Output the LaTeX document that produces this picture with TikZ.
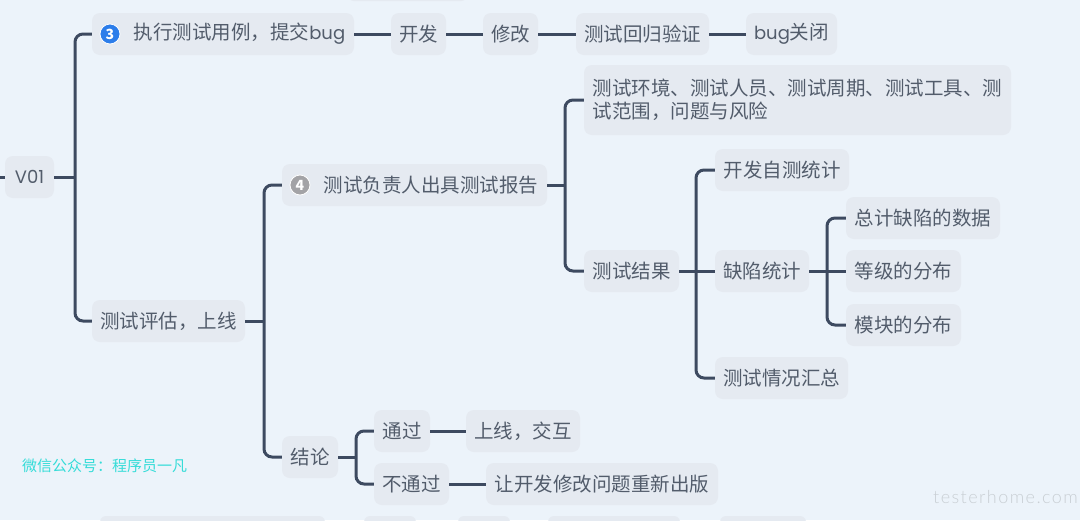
\documentclass[tikz,border=0pt]{standalone}
\usepackage{fontspec}
\setmainfont{Noto Sans CJK SC}
\newfontfamily\wmfont{Lato Light}
\newfontfamily\latinfont{Poppins}
\definecolor{bgc}{HTML}{ECF3FA}
\definecolor{boxc}{HTML}{E5EAF1}
\definecolor{linec}{HTML}{3D4A60}
\definecolor{textc}{HTML}{525C6B}
\definecolor{wxc}{HTML}{35DCD8}
\definecolor{wmc}{HTML}{C9CFD4}
\definecolor{blueb}{HTML}{2C7DEA}
\definecolor{grayb}{HTML}{A3A3A6}
\tikzset{
  mapbox/.style={fill=boxc,rounded corners=8pt,inner sep=0pt,minimum height=42pt,text=textc,font=\fontsize{19.5}{24}\selectfont,align=left},
  link/.style={draw=linec,line width=3pt,rounded corners=8pt},
  straight/.style={rounded corners=0pt},
  badge/.style={circle,inner sep=0pt,minimum size=20pt,text=white,font=\fontsize{14}{14}\selectfont\bfseries,draw=white,line width=0.8pt}
}
\begin{document}
\begin{tikzpicture}[x=1pt,y=-1pt]
\useasboundingbox (0,0) rectangle (1080,520);
\fill[bgc] (0,0) rectangle (1080,520);
% partial boxes cut off by the frame
\fill[boxc,rounded corners=6pt] (348,-10) rectangle (467,1);
\foreach \a/\b in {100/325,364/416,458/510,548/680,720/806}{
  \fill[boxc,rounded corners=6pt] (\a,516) rectangle (\b,530);
}
\node[mapbox,minimum width=49pt] (v01) at (29.5,177) {{\latinfont\fontsize{18}{24}\selectfont V01}};
\coordinate (rootin) at (0,177);
\node[mapbox,minimum width=262pt] (n3) at (223,34) {\hspace*{33pt}执行测试用例，提交{\latinfont\fontsize{18}{24}\selectfont bug}};
\node[mapbox,minimum width=55pt] (dev) at (418.5,34) {开发};
\node[mapbox,minimum width=55pt] (fix) at (510.5,34) {修改};
\node[mapbox,minimum width=133pt] (reg) at (642.5,34) {测试回归验证};
\node[mapbox,minimum width=91pt] (close) at (791.5,34) {{\latinfont\fontsize{18}{24}\selectfont bug}关闭};
\node[mapbox,minimum width=427pt,minimum height=70pt] (scope) at (797.5,100) {测试环境、测试人员、测试周期、测试工具、测\\[-1pt]试范围，问题与风险};
\node[mapbox,minimum width=134pt] (self) at (782,170) {开发自测统计};
\node[mapbox,minimum width=154pt] (total) at (923,218) {总计缺陷的数据};
\node[mapbox,minimum width=95pt] (result) at (631.5,271) {测试结果};
\node[mapbox,minimum width=94pt] (defect) at (762,271) {缺陷统计};
\node[mapbox,minimum width=115pt] (level) at (903.5,271) {等级的分布};
\node[mapbox,minimum width=115pt] (module) at (903.5,325) {模块的分布};
\node[mapbox,minimum width=133pt] (summary) at (781.5,378) {测试情况汇总};
\node[mapbox,minimum width=265pt] (n4) at (414.5,185) {\hspace*{33pt}测试负责人出具测试报告};
\node[mapbox,minimum width=153pt] (eval) at (168.5,321) {测试评估，上线};
\node[mapbox,minimum width=56pt] (concl) at (310,457) {结论};
\node[mapbox,minimum width=56pt] (pass) at (402,431) {通过};
\node[mapbox,minimum width=75pt] (fail) at (411.5,484) {不通过};
\node[mapbox,minimum width=114pt] (online) at (523,431) {上线，交互};
\node[mapbox,minimum width=232pt] (redo) at (602,484) {让开发修改问题重新出版};
\node[badge,fill=blueb] (b3) at (110,34) {3};
\node[badge,fill=grayb] (b4) at (300,185) {4};
\node[text=wxc,font=\fontsize{15}{17}\selectfont,anchor=west,inner sep=0pt] (wx) at (22,466) {微信公众号：程序员一凡};
\node[text=wmc,font=\fontsize{18}{20}\wmfont,anchor=west,inner sep=0pt] (wm) at (933,497) {\addfontfeatures{LetterSpace=8}testerhome.com};
% connector junctions
\coordinate (j1) at (75,177);
\coordinate (j2) at (264,321);
\coordinate (j3) at (565,185);
\coordinate (j4) at (696,271);
\coordinate (j5) at (827,271);
\coordinate (j6) at (356,457);
\begin{scope}[every path/.style={link}]
\draw[straight] (rootin) -- (v01.west);
\draw[straight] (v01.east) -- (j1);
\draw (n3.west) -| (j1) |- (eval.west);
\draw[straight] (n3.east) -- (dev.west);
\draw[straight] (dev.east) -- (fix.west);
\draw[straight] (fix.east) -- (reg.west);
\draw[straight] (reg.east) -- (close.west);
\draw[straight] (eval.east) -- (j2);
\draw (n4.west) -| (j2) |- (concl.west);
\draw[straight] (n4.east) -- (j3);
\draw (scope.west) -| (j3) |- (result.west);
\draw[straight] (result.east) -- (defect.west);
\draw (self.west) -| (j4) |- (summary.west);
\draw[straight] (defect.east) -- (level.west);
\draw (total.west) -| (j5) |- (module.west);
\draw[straight] (concl.east) -- (j6);
\draw (pass.west) -| (j6) |- (fail.west);
\draw[straight] (pass.east) -- (online.west);
\draw[straight] (fail.east) -- (redo.west);
\end{scope}
\end{tikzpicture}
\end{document}
